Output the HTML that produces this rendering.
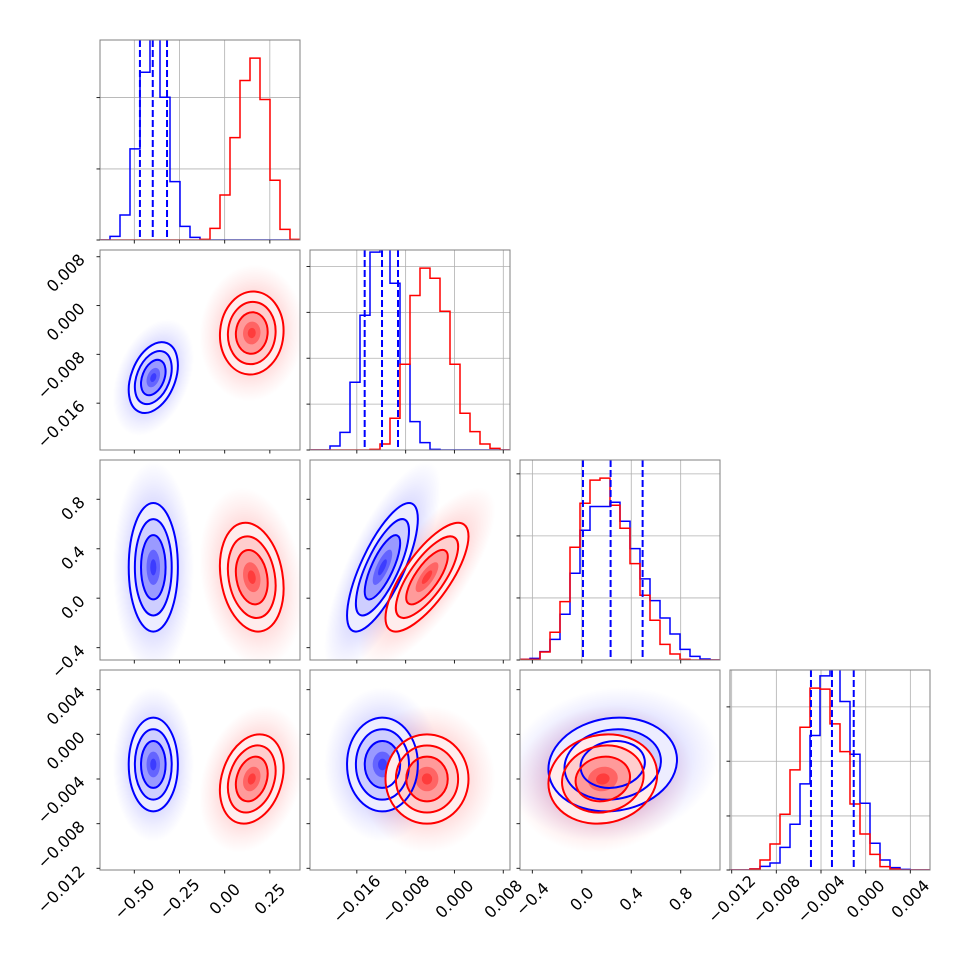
<!DOCTYPE html>
<html><head><meta charset="utf-8"><title>Corner plot</title>
<style>html,body{margin:0;padding:0;background:#fff}svg{display:block}text{font-family:"DejaVu Sans","Liberation Sans",sans-serif;font-size:16px;fill:#000}</style>
</head><body>
<svg id="chart" width="970" height="970" viewBox="0 0 970 970" xmlns="http://www.w3.org/2000/svg">
<rect width="970" height="970" fill="#fff"/>
<defs>
<radialGradient id="gBlue"><stop offset="0" stop-color="#0000ff" stop-opacity="0.28"/><stop offset="0.5" stop-color="#0000ff" stop-opacity="0.17"/><stop offset="0.8" stop-color="#0000ff" stop-opacity="0.06"/><stop offset="1" stop-color="#0000ff" stop-opacity="0"/></radialGradient>
<radialGradient id="gRed"><stop offset="0" stop-color="#ff0000" stop-opacity="0.28"/><stop offset="0.5" stop-color="#ff0000" stop-opacity="0.17"/><stop offset="0.8" stop-color="#ff0000" stop-opacity="0.06"/><stop offset="1" stop-color="#ff0000" stop-opacity="0"/></radialGradient>
</defs>
</svg>
<script>
// ---- axis ranges per parameter ----
const rangeLo = [-0.69, -0.02367, -0.5, -0.01215];
const rangeHi = [0.417, 0.0091, 1.118, 0.00576];
// ---- tick values and labels ----
const ticksP0 = [-0.5, -0.25, 0, 0.25];
const labelsP0 = ["\u22120.50", "\u22120.25", "0.00", "0.25"];
const ticksP1 = [-0.016, -0.008, 0, 0.008];
const labelsP1 = ["\u22120.016", "\u22120.008", "0.000", "0.008"];
const ticksP2 = [-0.4, 0, 0.4, 0.8];
const labelsP2 = ["\u22120.4", "0.0", "0.4", "0.8"];
const ticksP3 = [-0.012, -0.008, -0.004, 0, 0.004];
const labelsP3 = ["\u22120.012", "\u22120.008", "\u22120.004", "0.000", "0.004"];
// ---- histogram counts (20 bins over range) ----
const blueHistP0 = [0,11,75,273,503,650,428,175,41,8,0,0,0,0,0,0,0,0,0,0];
const redHistP0 = [0,0,0,0,0,0,0,0,0,0,2,35,135,307,478,545,421,179,32,2];
const blueHistP1 = [0,0,12,53,203,404,593,640,500,257,85,22,2,0,0,0,0,0,0,0];
const redHistP1 = [0,0,0,0,0,0,2,18,95,257,463,545,515,416,257,110,55,18,5,0];
const blueHistP2 = [2,5,25,62,137,260,389,460,460,473,416,334,243,178,126,78,32,11,3,0];
const redHistP2 = [2,2,24,83,175,338,470,539,545,464,395,289,194,119,47,18,2,0,0,0];
const blueHistP3 = [0,0,3,11,21,68,137,258,403,582,640,505,347,200,80,30,7,2,0,0];
const redHistP3 = [0,0,3,30,78,167,300,428,545,542,438,355,198,108,47,10,3,0,0,0];
const histGridP0 = [0,213,427];
const histGridP1 = [0,137.5,275,412.5,550];
const histGridP2 = [0,186,372,558];
const histGridP3 = [0,162,326,489];
// ---- blue quantiles (16/50/84) ----
const blueQuantP0 = [-0.469, -0.398, -0.319];
const blueQuantP1 = [-0.01471, -0.01187, -0.00925];
const blueQuantP2 = [0.0093, 0.233, 0.492];
const blueQuantP3 = [-0.0049, -0.00302, -0.00107];
// ---- 2D distribution summaries ----
const blueMean = [-0.395, -0.0118, 0.25, -0.0027];
const blueSd = [0.068, 0.0029, 0.26, 0.0021];
const redMean = [0.15, -0.0045, 0.17, -0.0040];
const redSd = [0.088, 0.0034, 0.22, 0.0020];
// pairs order: (1,0),(2,0),(3,0),(2,1),(3,1),(3,2)  as (row,col)
const pairRows = [1,2,3,2,3,3];
const pairCols = [0,0,0,1,1,2];
const blueRho = [0.35, 0.0, 0.0, 0.75, 0.0, 0.1];
const redRho = [0.05, -0.2, 0.25, 0.75, 0.0, 0.1];

const ticks = [ticksP0, ticksP1, ticksP2, ticksP3];
const labels = [labelsP0, labelsP1, labelsP2, labelsP3];
const blueHists = [blueHistP0, blueHistP1, blueHistP2, blueHistP3];
const redHists = [redHistP0, redHistP1, redHistP2, redHistP3];
const histGrids = [histGridP0, histGridP1, histGridP2, histGridP3];
const blueQuants = [blueQuantP0, blueQuantP1, blueQuantP2, blueQuantP3];

const colL = [100, 310, 520, 730];
const rowT = [40, 250, 460, 670];
const S = 200;
const NS = "http://www.w3.org/2000/svg";
const svg = document.getElementById('chart');

function X(p, v) { return colL[p] + (v - rangeLo[p]) / (rangeHi[p] - rangeLo[p]) * S; }
function Y(p, v) { return rowT[p] + S - (v - rangeLo[p]) / (rangeHi[p] - rangeLo[p]) * S; }
function el(tag, parent) { const e = document.createElementNS(NS, tag); parent.appendChild(e); return e; }

const defs = svg.querySelector('defs');
for (let r = 0; r < 4; r++) for (let c = 0; c <= r; c++) {
  const cp = el('clipPath', defs); cp.setAttribute('id', 'cp' + r + c);
  const cr = el('rect', cp);
  cr.setAttribute('x', colL[c]); cr.setAttribute('y', rowT[r]); cr.setAttribute('width', S); cr.setAttribute('height', S);
}

function histY(r, count) { const m = Math.max(...redHists[r]) * 1.1; return rowT[r] + S - count / m * S; }

// ---- diagonal histograms ----
for (let p = 0; p < 4; p++) {
  const g = el('g', svg);
  
  
  g.setAttribute('clip-path', 'url(#cp' + p + p + ')');
  ticks[p].forEach(t => {
    const l = el('line', g);
    
    
    l.setAttribute('x1', X(p, t)); l.setAttribute('x2', X(p, t)); l.setAttribute('y1', rowT[p]); l.setAttribute('y2', rowT[p] + S);
    l.setAttribute('stroke', '#b0b0b0'); l.setAttribute('stroke-width', '0.8');
  });
  histGrids[p].forEach(t => {
    const l = el('line', g);
    
    
    l.setAttribute('x1', colL[p]); l.setAttribute('x2', colL[p] + S); l.setAttribute('y1', histY(p, t)); l.setAttribute('y2', histY(p, t));
    l.setAttribute('stroke', '#b0b0b0'); l.setAttribute('stroke-width', '0.8');
  });
  [[blueHists[p], '#0000ff', 'blue'], [redHists[p], '#ff0000', 'red']].forEach(([h, col, nm]) => {
    const w = (rangeHi[p] - rangeLo[p]) / h.length;
    let d = 'M' + X(p, rangeLo[p]) + ' ' + histY(p, 0);
    h.forEach((c, i) => {
      const x0 = X(p, rangeLo[p] + i * w), x1 = X(p, rangeLo[p] + (i + 1) * w);
      d += ' L' + x0 + ' ' + histY(p, c) + ' L' + x1 + ' ' + histY(p, c);
    });
    d += ' L' + X(p, rangeHi[p]) + ' ' + histY(p, 0);
    const path = el('path', g);
    
    
    path.setAttribute('d', d); path.setAttribute('fill', 'none'); path.setAttribute('stroke', col); path.setAttribute('stroke-width', '1.5');
  });
  blueQuants[p].forEach(q => {
    const l = el('line', g);
    
    
    l.setAttribute('x1', X(p, q)); l.setAttribute('x2', X(p, q)); l.setAttribute('y1', rowT[p]); l.setAttribute('y2', rowT[p] + S);
    l.setAttribute('stroke', '#0000ff'); l.setAttribute('stroke-width', '2'); l.setAttribute('stroke-dasharray', '7,3');
  });
}

// ---- 2D panels ----
function ellipse(g, k, r, c, mean, sd, rho, attrs, name) {
  const sx = sd[c] * S / (rangeHi[c] - rangeLo[c]);
  const sy = sd[r] * S / (rangeHi[r] - rangeLo[r]);
  const a = sx * sx, b = sy * sy, cv = -rho * sx * sy;
  const ang = 0.5 * Math.atan2(2 * cv, a - b) * 180 / Math.PI;
  const q = Math.sqrt(((a - b) / 2) ** 2 + cv * cv);
  const l1 = (a + b) / 2 + q, l2 = Math.max((a + b) / 2 - q, 0.01);
  const cx = X(c, mean[c]), cy = Y(r, mean[r]);
  const e = el('ellipse', g);
  
  
  e.setAttribute('cx', cx); e.setAttribute('cy', cy);
  e.setAttribute('rx', k * Math.sqrt(l1)); e.setAttribute('ry', k * Math.sqrt(l2));
  e.setAttribute('transform', 'rotate(' + ang + ' ' + cx + ' ' + cy + ')');
  for (const key in attrs) e.setAttribute(key, attrs[key]);
  return e;
}
for (let i = 0; i < pairRows.length; i++) {
  const r = pairRows[i], c = pairCols[i];
  const g = el('g', svg);
  
  
  g.setAttribute('clip-path', 'url(#cp' + r + c + ')');
  const sets = [[blueMean, blueSd, blueRho[i], '#0000ff', 'url(#gBlue)', 'blue'], [redMean, redSd, redRho[i], '#ff0000', 'url(#gRed)', 'red']];
  sets.forEach(s => ellipse(g, 3.3, r, c, s[0], s[1], s[2], { fill: s[4] }, s[5] + '-point-cloud'));
  sets.forEach(s => {
    ellipse(g, 2, r, c, s[0], s[1], s[2], { fill: '#ffffff' }, s[5] + '-contour-base');
    ellipse(g, 2, r, c, s[0], s[1], s[2], { fill: s[3], 'fill-opacity': '0.07' }, s[5] + '-fill-2sigma');
    ellipse(g, 1.5, r, c, s[0], s[1], s[2], { fill: s[3], 'fill-opacity': '0.13' }, s[5] + '-fill-1.5sigma');
    ellipse(g, 1, r, c, s[0], s[1], s[2], { fill: s[3], 'fill-opacity': '0.25' }, s[5] + '-fill-1sigma');
    ellipse(g, 0.55, r, c, s[0], s[1], s[2], { fill: s[3], 'fill-opacity': '0.35' }, s[5] + '-fill-core');
    ellipse(g, 0.25, r, c, s[0], s[1], s[2], { fill: s[3], 'fill-opacity': '0.4' }, s[5] + '-fill-peak');
  });
  sets.forEach(s => {
    [2, 1.5, 1].forEach(k => ellipse(g, k, r, c, s[0], s[1], s[2], { fill: 'none', stroke: s[3], 'stroke-width': '2' }, s[5] + '-contour-line'));
  });
}

// ---- frames, ticks, labels ----
for (let r = 0; r < 4; r++) for (let c = 0; c <= r; c++) {
  const fr = el('rect', svg);
  
  
  fr.setAttribute('x', colL[c]); fr.setAttribute('y', rowT[r]); fr.setAttribute('width', S); fr.setAttribute('height', S);
  fr.setAttribute('fill', 'none'); fr.setAttribute('stroke', '#808080'); fr.setAttribute('stroke-width', '1');
  ticks[c].forEach(t => {
    const l = el('line', svg);
    
    
    l.setAttribute('x1', X(c, t)); l.setAttribute('x2', X(c, t)); l.setAttribute('y1', rowT[r] + S); l.setAttribute('y2', rowT[r] + S + 3.5);
    l.setAttribute('stroke', '#222'); l.setAttribute('stroke-width', '1');
  });
  const yt = (r === c) ? histGrids[r].map(v => histY(r, v)) : ticks[r].map(v => Y(r, v));
  yt.forEach(y => {
    const l = el('line', svg);
    
    
    l.setAttribute('x1', colL[c] - 3.5); l.setAttribute('x2', colL[c]); l.setAttribute('y1', y); l.setAttribute('y2', y);
    l.setAttribute('stroke', '#222'); l.setAttribute('stroke-width', '1');
  });
}
for (let c = 0; c < 4; c++) {
  ticks[c].forEach((t, i) => {
    const tx = el('text', svg);
    
    
    const cx = X(c, t), cy = 899;
    tx.setAttribute('x', cx); tx.setAttribute('y', cy);
    tx.setAttribute('text-anchor', 'middle'); tx.setAttribute('dominant-baseline', 'central');
    tx.setAttribute('transform', 'rotate(-45 ' + cx + ' ' + cy + ')');
    tx.textContent = labels[c][i];
  });
}
for (let r = 1; r < 4; r++) {
  ticks[r].forEach((t, i) => {
    const tx = el('text', svg);
    
    
    tx.textContent = labels[r][i];
    tx.setAttribute('text-anchor', 'middle'); tx.setAttribute('dominant-baseline', 'central');
    const L = tx.getComputedTextLength ? tx.getComputedTextLength() : 45;
    const w = (L + 11.5) * 0.707;
    const cx = 86 - w / 2, cy = Y(r, t) - 4 + w / 2;
    tx.setAttribute('x', cx); tx.setAttribute('y', cy);
    tx.setAttribute('transform', 'rotate(-45 ' + cx + ' ' + cy + ')');
  });
}
</script>
</body></html>
